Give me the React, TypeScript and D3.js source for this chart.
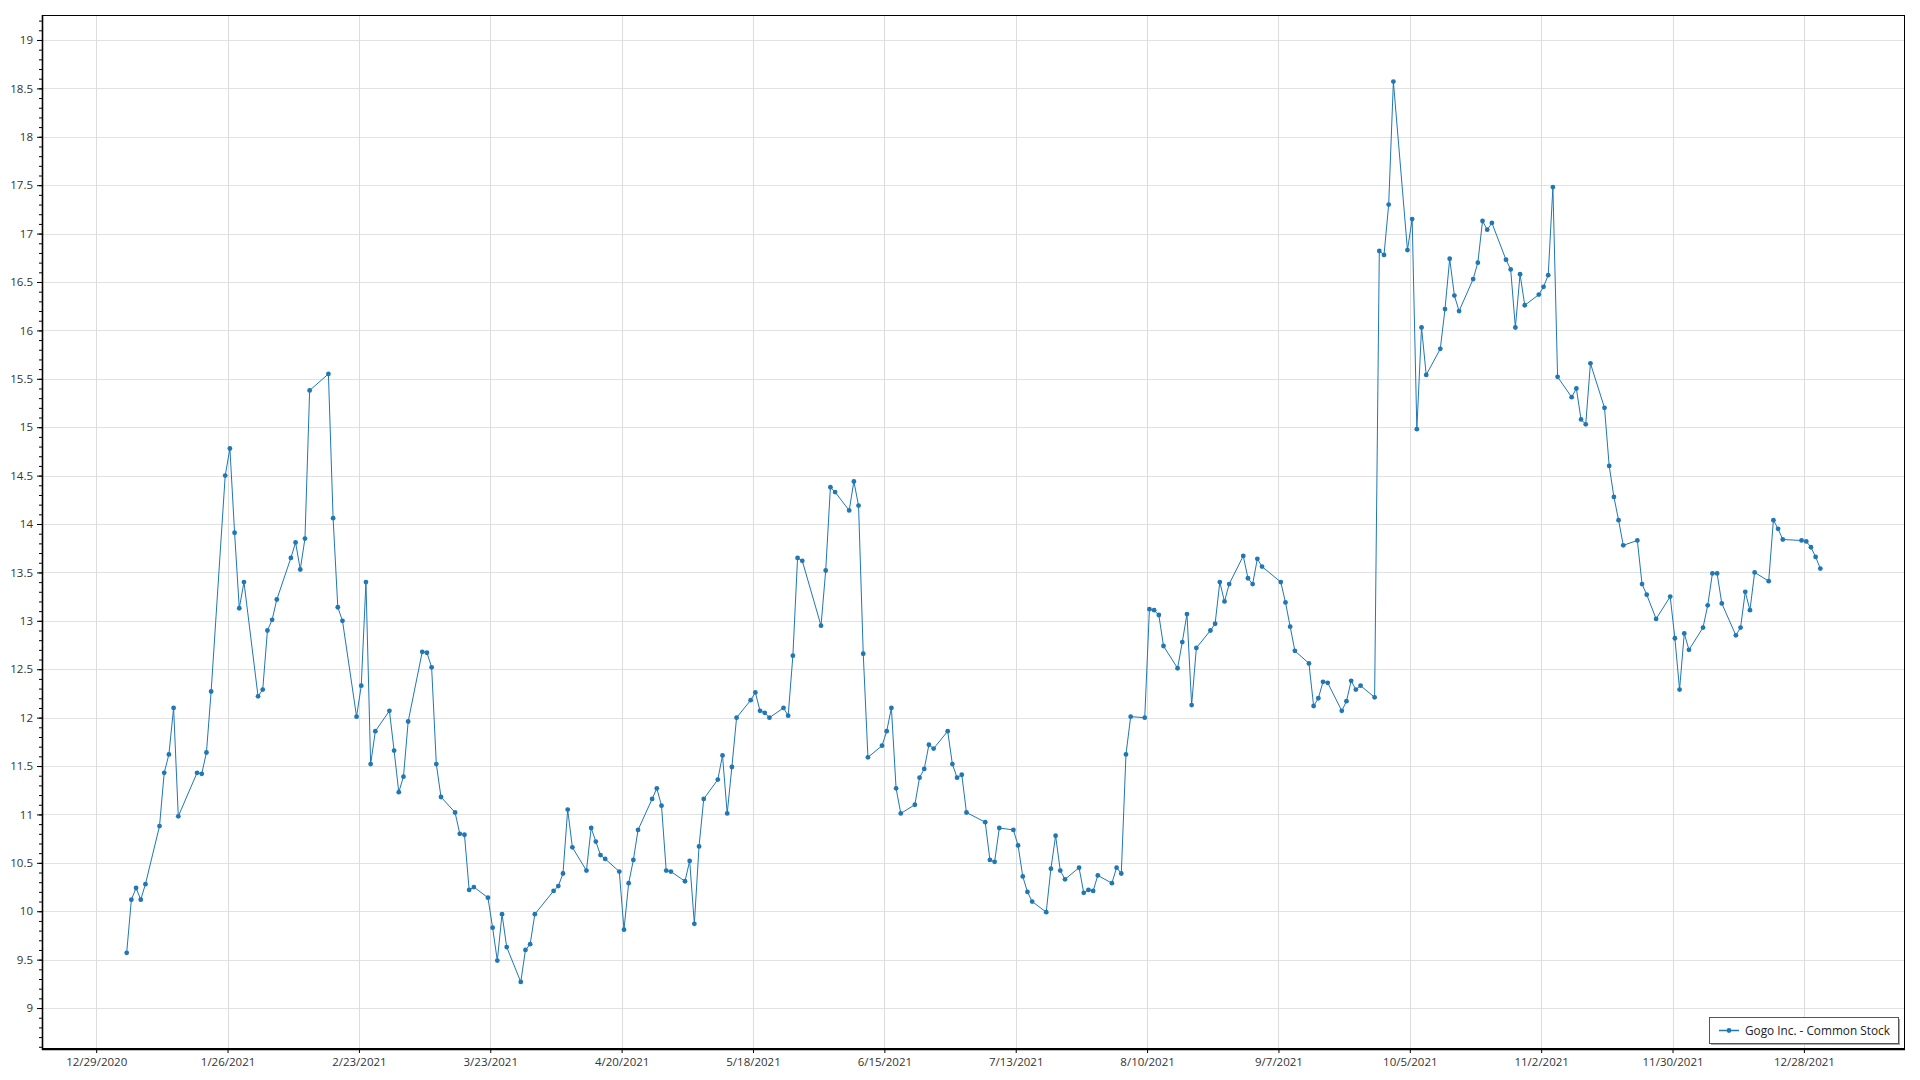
import React, { useEffect, useRef } from "react";
import * as d3 from "d3";

// Gogo Inc. daily closes, 2021
const seriesName = "Gogo Inc. - Common Stock";

const marketHolidays = [
  "2021-01-01", "2021-01-18", "2021-02-15", "2021-04-02", "2021-05-31",
  "2021-07-05", "2021-09-06", "2021-11-25", "2021-12-24",
];

const jan = [9.57, 10.12, 10.24, 10.12, 10.28, 10.88, 11.43, 11.62, 12.1, 10.98, 11.43, 11.42, 11.64, 12.27, 14.5, 14.78, 13.91, 13.13, 13.4];
const feb = [12.22, 12.29, 12.9, 13.01, 13.22, 13.65, 13.81, 13.53, 13.85, 15.38, 15.55, 14.06, 13.14, 13.0, 12.01, 12.33, 13.4, 11.52, 11.86];
const mar = [12.07, 11.66, 11.23, 11.39, 11.96, 12.68, 12.67, 12.52, 11.52, 11.18, 11.02, 10.8, 10.79, 10.22, 10.25, 10.14, 9.83, 9.49, 9.97, 9.63, 9.27, 9.6, 9.66];
const apr = [9.97, 10.21, 10.26, 10.39, 11.05, 10.66, 10.42, 10.86, 10.72, 10.58, 10.54, 10.41, 9.81, 10.29, 10.53, 10.84, 11.16, 11.27, 11.09, 10.42, 10.41];
const may = [10.31, 10.52, 9.87, 10.67, 11.16, 11.36, 11.61, 11.01, 11.49, 12.0, 12.18, 12.26, 12.07, 12.05, 12.0, 12.1, 12.02, 12.64, 13.65, 13.62];
const jun = [12.95, 13.52, 14.38, 14.33, 14.14, 14.44, 14.19, 12.66, 11.59, 11.71, 11.86, 12.1, 11.27, 11.01, 11.1, 11.38, 11.47, 11.72, 11.68, 11.86, 11.52, 11.38];
const jul = [11.41, 11.02, 10.92, 10.53, 10.51, 10.86, 10.84, 10.68, 10.36, 10.2, 10.1, 9.99, 10.44, 10.78, 10.42, 10.33, 10.45, 10.19, 10.22, 10.21, 10.37];
const aug = [10.29, 10.45, 10.39, 11.62, 12.01, 12.0, 13.12, 13.11, 13.06, 12.74, 12.51, 12.78, 13.07, 12.13, 12.72, 12.9, 12.97, 13.4, 13.2, 13.38, 13.67, 13.44];
const sep = [13.38, 13.64, 13.56, 13.4, 13.19, 12.94, 12.69, 12.56, 12.12, 12.2, 12.37, 12.36, 12.07, 12.17, 12.38, 12.29, 12.33, 12.21, 16.82, 16.78, 17.3];
const oct = [18.57, 16.83, 17.15, 14.98, 16.03, 15.54, 15.81, 16.22, 16.74, 16.36, 16.2, 16.53, 16.7, 17.13, 17.04, 17.11, 16.73, 16.63, 16.03, 16.58, 16.26];
const nov = [16.37, 16.45, 16.57, 17.48, 15.52, 15.31, 15.4, 15.08, 15.03, 15.66, 15.2, 14.6, 14.28, 14.04, 13.78, 13.83, 13.38, 13.27, 13.02, 13.25, 12.82];
const dec = [12.29, 12.87, 12.7, 12.93, 13.16, 13.49, 13.49, 13.18, 12.85, 12.93, 13.3, 13.11, 13.5, 13.41, 14.04, 13.95, 13.84, 13.83, 13.82, 13.76, 13.66, 13.54];

const xTickLabels = [
  "12/29/2020", "1/26/2021", "2/23/2021", "3/23/2021", "4/20/2021", "5/18/2021", "6/15/2021",
  "7/13/2021", "8/10/2021", "9/7/2021", "10/5/2021", "11/2/2021", "11/30/2021", "12/28/2021",
];

const fmtKey = d3.timeFormat("%Y-%m-%d");

// NYSE trading calendar for the year
const tradingDays = (year: number) => {
  const out: Date[] = [];
  const days = d3.timeDay.range(new Date(year, 0, 1), new Date(year + 1, 0, 1));
  days.forEach((d) => {
    const wd = d.getDay();
    if (wd === 0 || wd === 6) return;
    if (marketHolidays.includes(fmtKey(d))) return;
    out.push(d);
  });
  return out;
};

export default function App() {
  const ref = useRef<SVGSVGElement>(null);

  useEffect(() => {
    document.body.style.margin = "0";
    const width = 1920;
    const height = 1080;
    const margin = { top: 15, right: 15, bottom: 31, left: 42 };
    const font = "'Segoe UI', 'Open Sans', sans-serif";
    const blue = "#1f77b4";

    const svg = d3.select(ref.current);
    svg.selectAll("*").remove();

    const closes = [...jan, ...feb, ...mar, ...apr, ...may, ...jun, ...jul, ...aug, ...sep, ...oct, ...nov, ...dec];
    const dates = tradingDays(2021);
    const data = dates.map((d, i) => ({ date: d3.timeHour.offset(d, 12), close: closes[i] }));

    const [d0, d1] = d3.extent(data, (d) => d.date) as [Date, Date];
    const pad = (+d1 - +d0) * 0.05;
    const x = d3
      .scaleTime()
      .domain([new Date(+d0 - pad), new Date(+d1 + pad)])
      .range([margin.left, width - margin.right]);

    const y = d3
      .scaleLinear()
      .domain([8.577, 19.258])
      .range([height - margin.bottom, margin.top]);

    const parseTick = d3.timeParse("%m/%d/%Y");
    const tickDates = xTickLabels.map((s) => parseTick(s) as Date);
    const majorY = d3.range(9, 19.01, 0.5);
    const minorY = d3.range(8.6, 19.26, 0.1).map((v) => Math.round(v * 10) / 10);

    // grid
    const grid = svg.append("g").attr("stroke", "#e2e2e2").attr("stroke-width", 1);
    grid
      .selectAll("line.h")
      .data(majorY)
      .join("line")
      .attr("class", "h")
      .attr("x1", margin.left)
      .attr("x2", width - margin.right)
      .attr("y1", (d) => Math.round(y(d)) + 0.5)
      .attr("y2", (d) => Math.round(y(d)) + 0.5);
    grid
      .selectAll("line.v")
      .data(tickDates)
      .join("line")
      .attr("class", "v")
      .attr("stroke", "#dcdcdc")
      .attr("x1", (d) => Math.round(x(d)) + 0.5)
      .attr("x2", (d) => Math.round(x(d)) + 0.5)
      .attr("y1", margin.top)
      .attr("y2", height - margin.bottom);

    // frame
    svg
      .append("rect")
      .attr("x", margin.left + 0.5)
      .attr("y", margin.top + 0.5)
      .attr("width", width - margin.left - margin.right - 1)
      .attr("height", height - margin.top - margin.bottom - 1)
      .attr("fill", "none")
      .attr("stroke", "#000")
      .attr("stroke-width", 1);

    // y axis: minor then major
    svg
      .append("g")
      .attr("transform", `translate(${margin.left},0)`)
      .call(d3.axisLeft(y).tickValues(minorY).tickSize(3).tickFormat(() => ""))
      .call((g) => g.select(".domain").remove());

    svg
      .append("g")
      .attr("transform", `translate(${margin.left},0)`)
      .call(
        d3
          .axisLeft(y)
          .tickValues(majorY)
          .tickSize(5)
          .tickPadding(4)
          .tickFormat((d) => String(+d))
      )
      .call((g) => g.select(".domain").remove())
      .call((g) => g.selectAll("text").attr("font-family", font).attr("font-size", 11.5).attr("fill", "#333"));

    svg
      .append("g")
      .attr("transform", `translate(0,${height - margin.bottom})`)
      .call(
        d3
          .axisBottom(x)
          .tickValues(tickDates)
          .tickSize(4)
          .tickPadding(5)
          .tickFormat((d, i) => xTickLabels[i])
      )
      .call((g) => g.select(".domain").remove())
      .call((g) => g.selectAll("text").attr("font-family", font).attr("font-size", 11.5).attr("fill", "#333"));

    // left and bottom axis lines
    svg
      .append("path")
      .attr("d", `M${margin.left + 0.5},${margin.top} V${height - margin.bottom + 0.5} H${width - margin.right}`)
      .attr("fill", "none")
      .attr("stroke", "#000")
      .attr("stroke-width", 1.6);

    // series
    const line = d3
      .line<{ date: Date; close: number }>()
      .x((d) => x(d.date))
      .y((d) => y(d.close));

    svg
      .append("path")
      .datum(data)
      .attr("d", line)
      .attr("fill", "none")
      .attr("stroke", blue)
      .attr("stroke-width", 1);

    svg
      .append("g")
      .attr("fill", blue)
      .selectAll("circle")
      .data(data)
      .join("circle")
      .attr("cx", (d) => x(d.date))
      .attr("cy", (d) => y(d.close))
      .attr("r", 2.4);

    // legend
    const lg = svg.append("g").attr("transform", "translate(1709,1017)");
    lg.append("rect").attr("x", 2).attr("y", 2).attr("width", 189).attr("height", 26).attr("fill", "#aaa");
    lg.append("rect")
      .attr("x", 0.5)
      .attr("y", 0.5)
      .attr("width", 189)
      .attr("height", 26)
      .attr("fill", "#fff")
      .attr("stroke", "#555");
    lg.append("line")
      .attr("x1", 10)
      .attr("x2", 30)
      .attr("y1", 13.5)
      .attr("y2", 13.5)
      .attr("stroke", blue)
      .attr("stroke-width", 1.5);
    lg.append("circle").attr("cx", 20).attr("cy", 13.5).attr("r", 2.4).attr("fill", blue);
    lg.append("text")
      .attr("x", 36)
      .attr("y", 13.5)
      .attr("dy", "0.35em")
      .attr("font-family", font)
      .attr("font-size", 11.8)
      .attr("fill", "#222")
      .text(seriesName);
  }, []);

  return <svg ref={ref} width={1920} height={1080} style={{ display: "block" }} />;
}
